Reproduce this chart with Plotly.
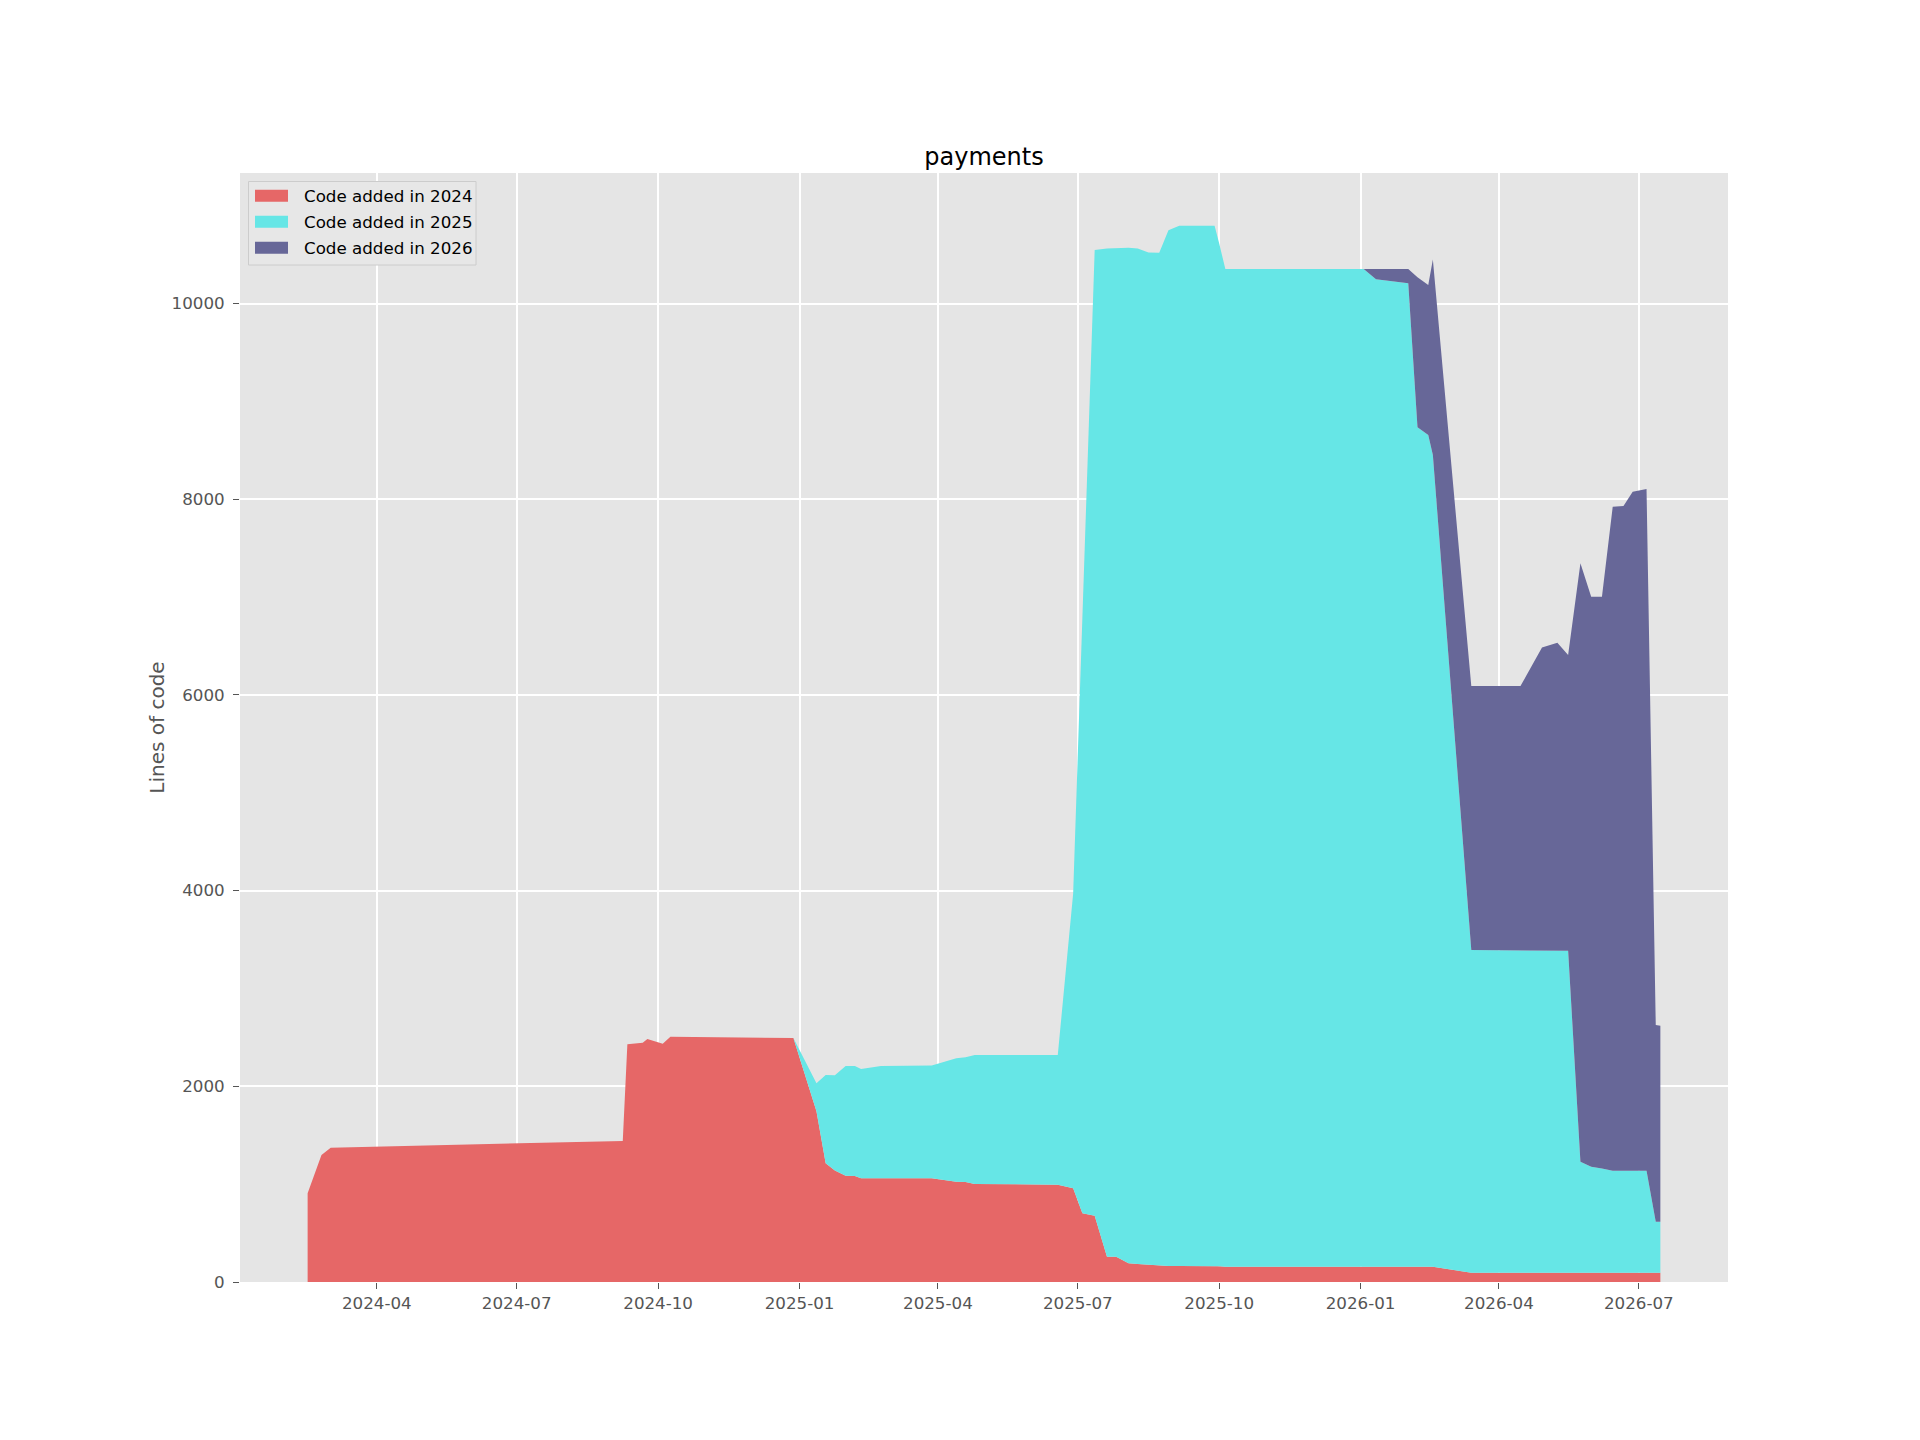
import pandas as pd
import plotly.graph_objects as go

# ---- data ----
dates = [
    "2024-02-16", "2024-02-25", "2024-03-02", "2024-09-08", "2024-09-11", "2024-09-21",
    "2024-09-24", "2024-10-04", "2024-10-09", "2024-12-28", "2025-01-12", "2025-01-18",
    "2025-01-24", "2025-01-31", "2025-02-06", "2025-02-10", "2025-02-23", "2025-03-28",
    "2025-04-13", "2025-04-19", "2025-04-25", "2025-06-18", "2025-06-28", "2025-07-04",
    "2025-07-12", "2025-07-20", "2025-07-26", "2025-08-03", "2025-08-09", "2025-08-16",
    "2025-08-23", "2025-08-29", "2025-09-05", "2025-09-14", "2025-09-28", "2025-10-01",
    "2025-10-05", "2026-01-03", "2026-01-11", "2026-02-01", "2026-02-07", "2026-02-14",
    "2026-02-17", "2026-03-14", "2026-04-15", "2026-04-29", "2026-05-09", "2026-05-16",
    "2026-05-24", "2026-05-31", "2026-06-07", "2026-06-14", "2026-06-21", "2026-06-27",
    "2026-07-06", "2026-07-12", "2026-07-15",
]

code_2024 = [
    906, 1298, 1373, 1441, 2429, 2446,
    2483, 2436, 2507, 2494, 1745, 1213,
    1140, 1087, 1083, 1060, 1060, 1060,
    1025, 1022, 1002, 994, 957, 702,
    678, 259, 259, 191, 184, 176,
    170, 164, 164, 164, 164, 160,
    155, 155, 155, 155, 155, 155,
    155, 95, 95, 95, 95, 95,
    95, 95, 95, 95, 95, 95,
    95, 95, 95,
]

code_2025 = [
    0, 0, 0, 0, 0, 0,
    0, 0, 0, 0, 286, 902,
    972, 1120, 1124, 1117, 1147, 1154,
    1261, 1274, 1318, 1326, 3015, 6049,
    9869, 10305, 10309, 10380, 10380, 10347,
    10349, 10586, 10631, 10628, 10631, 10455,
    10198, 10198, 10095, 10054, 8580, 8501,
    8297, 3298, 3298, 3295, 3293, 3291,
    1134, 1083, 1065, 1042, 1042, 1042,
    1042, 521, 521,
]

code_2026 = [
    0, 0, 0, 0, 0, 0,
    0, 0, 0, 0, 0, 0,
    0, 0, 0, 0, 0, 0,
    0, 0, 0, 0, 0, 0,
    0, 0, 0, 0, 0, 0,
    0, 0, 0, 0, 0, 0,
    0, 0, 103, 144, 1533, 1533,
    1999, 2698, 2698, 3096, 3146, 3022,
    6116, 5826, 5844, 6786, 6793, 6940,
    6967, 2010, 2004,
]

series_names = ["Code added in 2024", "Code added in 2025", "Code added in 2026"]
series_colors = ["#e66767", "#66e6e6", "#676798"]

x_tick_vals = ["2024-04-01", "2024-07-01", "2024-10-01", "2025-01-01", "2025-04-01",
               "2025-07-01", "2025-10-01", "2026-01-01", "2026-04-01", "2026-07-01"]
x_tick_text = ["2024-04", "2024-07", "2024-10", "2025-01", "2025-04",
               "2025-07", "2025-10", "2026-01", "2026-04", "2026-07"]
y_tick_vals = [0, 2000, 4000, 6000, 8000, 10000]
y_tick_text = ["0", "2000", "4000", "6000", "8000", "10000"]

title_text = "payments"
y_title = "Lines of code"

# ---- figure ----
W, H = 1920, 1440
ML, MR, MT, MB = 240, 192, 173, 158
PW, PH = W - ML - MR, H - MT - MB

x = pd.to_datetime(dates)
fig = go.Figure()
for name, vals, col in zip(series_names, [code_2024, code_2025, code_2026], series_colors):
    fig.add_trace(go.Scatter(
        x=x, y=vals, name=name, mode="lines", stackgroup="one",
        line=dict(width=0, color=col), fillcolor=col, showlegend=False,
    ))

span = x.max() - x.min()
x_range = [x.min() - span * 0.05, x.max() + span * 0.05]
totals = [a + b + c for a, b, c in zip(code_2024, code_2025, code_2026)]
y_range = [0, max(totals) * 1.05]

FONT = "DejaVu Sans"


def px_x(p):
    return (p - ML) / PW


def px_y(p):
    return (H - MB - p) / PH


# manual legend (matplotlib-style box with rectangle swatches)
shapes = [dict(type="rect", xref="paper", yref="paper", layer="above",
               x0=px_x(248.5), x1=px_x(476), y0=px_y(265), y1=px_y(181.5),
               fillcolor="#e7e7e7", line=dict(color="#cccccc", width=1))]
annotations = []
for i, (name, col) in enumerate(zip(series_names, series_colors)):
    cy = 195.7 + 26 * i
    shapes.append(dict(type="rect", xref="paper", yref="paper", layer="above",
                       x0=px_x(255), x1=px_x(288), y0=px_y(cy + 6), y1=px_y(cy - 6),
                       fillcolor=col, line=dict(width=0)))
    annotations.append(dict(text=name, xref="paper", yref="paper", x=px_x(301.5), y=px_y(cy),
                            xanchor="left", yanchor="middle", showarrow=False,
                            font=dict(family=FONT, size=16.7, color="black")))

fig.update_layout(
    width=W, height=H,
    margin=dict(l=ML, r=MR, t=MT, b=MB, autoexpand=False),
    paper_bgcolor="white", plot_bgcolor="#e5e5e5",
    font=dict(family=FONT, size=17, color="#555555"),
    title=dict(text=title_text, x=0.5, xanchor="center", xref="paper",
               y=1, yref="paper", yanchor="bottom", pad=dict(b=8),
               font=dict(family=FONT, size=24, color="black")),
    showlegend=False,
    shapes=shapes,
    annotations=annotations,
    hovermode=False,
)
fig.update_xaxes(
    range=x_range, tickvals=pd.to_datetime(x_tick_vals), ticktext=x_tick_text,
    showgrid=True, gridcolor="white", gridwidth=1.5, zeroline=False,
    ticks="outside", ticklen=6, tickcolor="#555555", tickwidth=1,
    tickfont=dict(family=FONT, size=16.7, color="#555555"),
    showline=False,
)
fig.update_yaxes(
    range=y_range, tickvals=y_tick_vals, ticktext=y_tick_text,
    showgrid=True, gridcolor="white", gridwidth=1.5, zeroline=False,
    ticks="outside", ticklen=6, tickcolor="#555555", tickwidth=1,
    ticklabelstandoff=5,
    tickfont=dict(family=FONT, size=16.7, color="#555555"),
    title=dict(text=y_title, standoff=1, font=dict(family=FONT, size=20, color="#555555")),
    showline=False,
)

fig.write_html("out.html")
